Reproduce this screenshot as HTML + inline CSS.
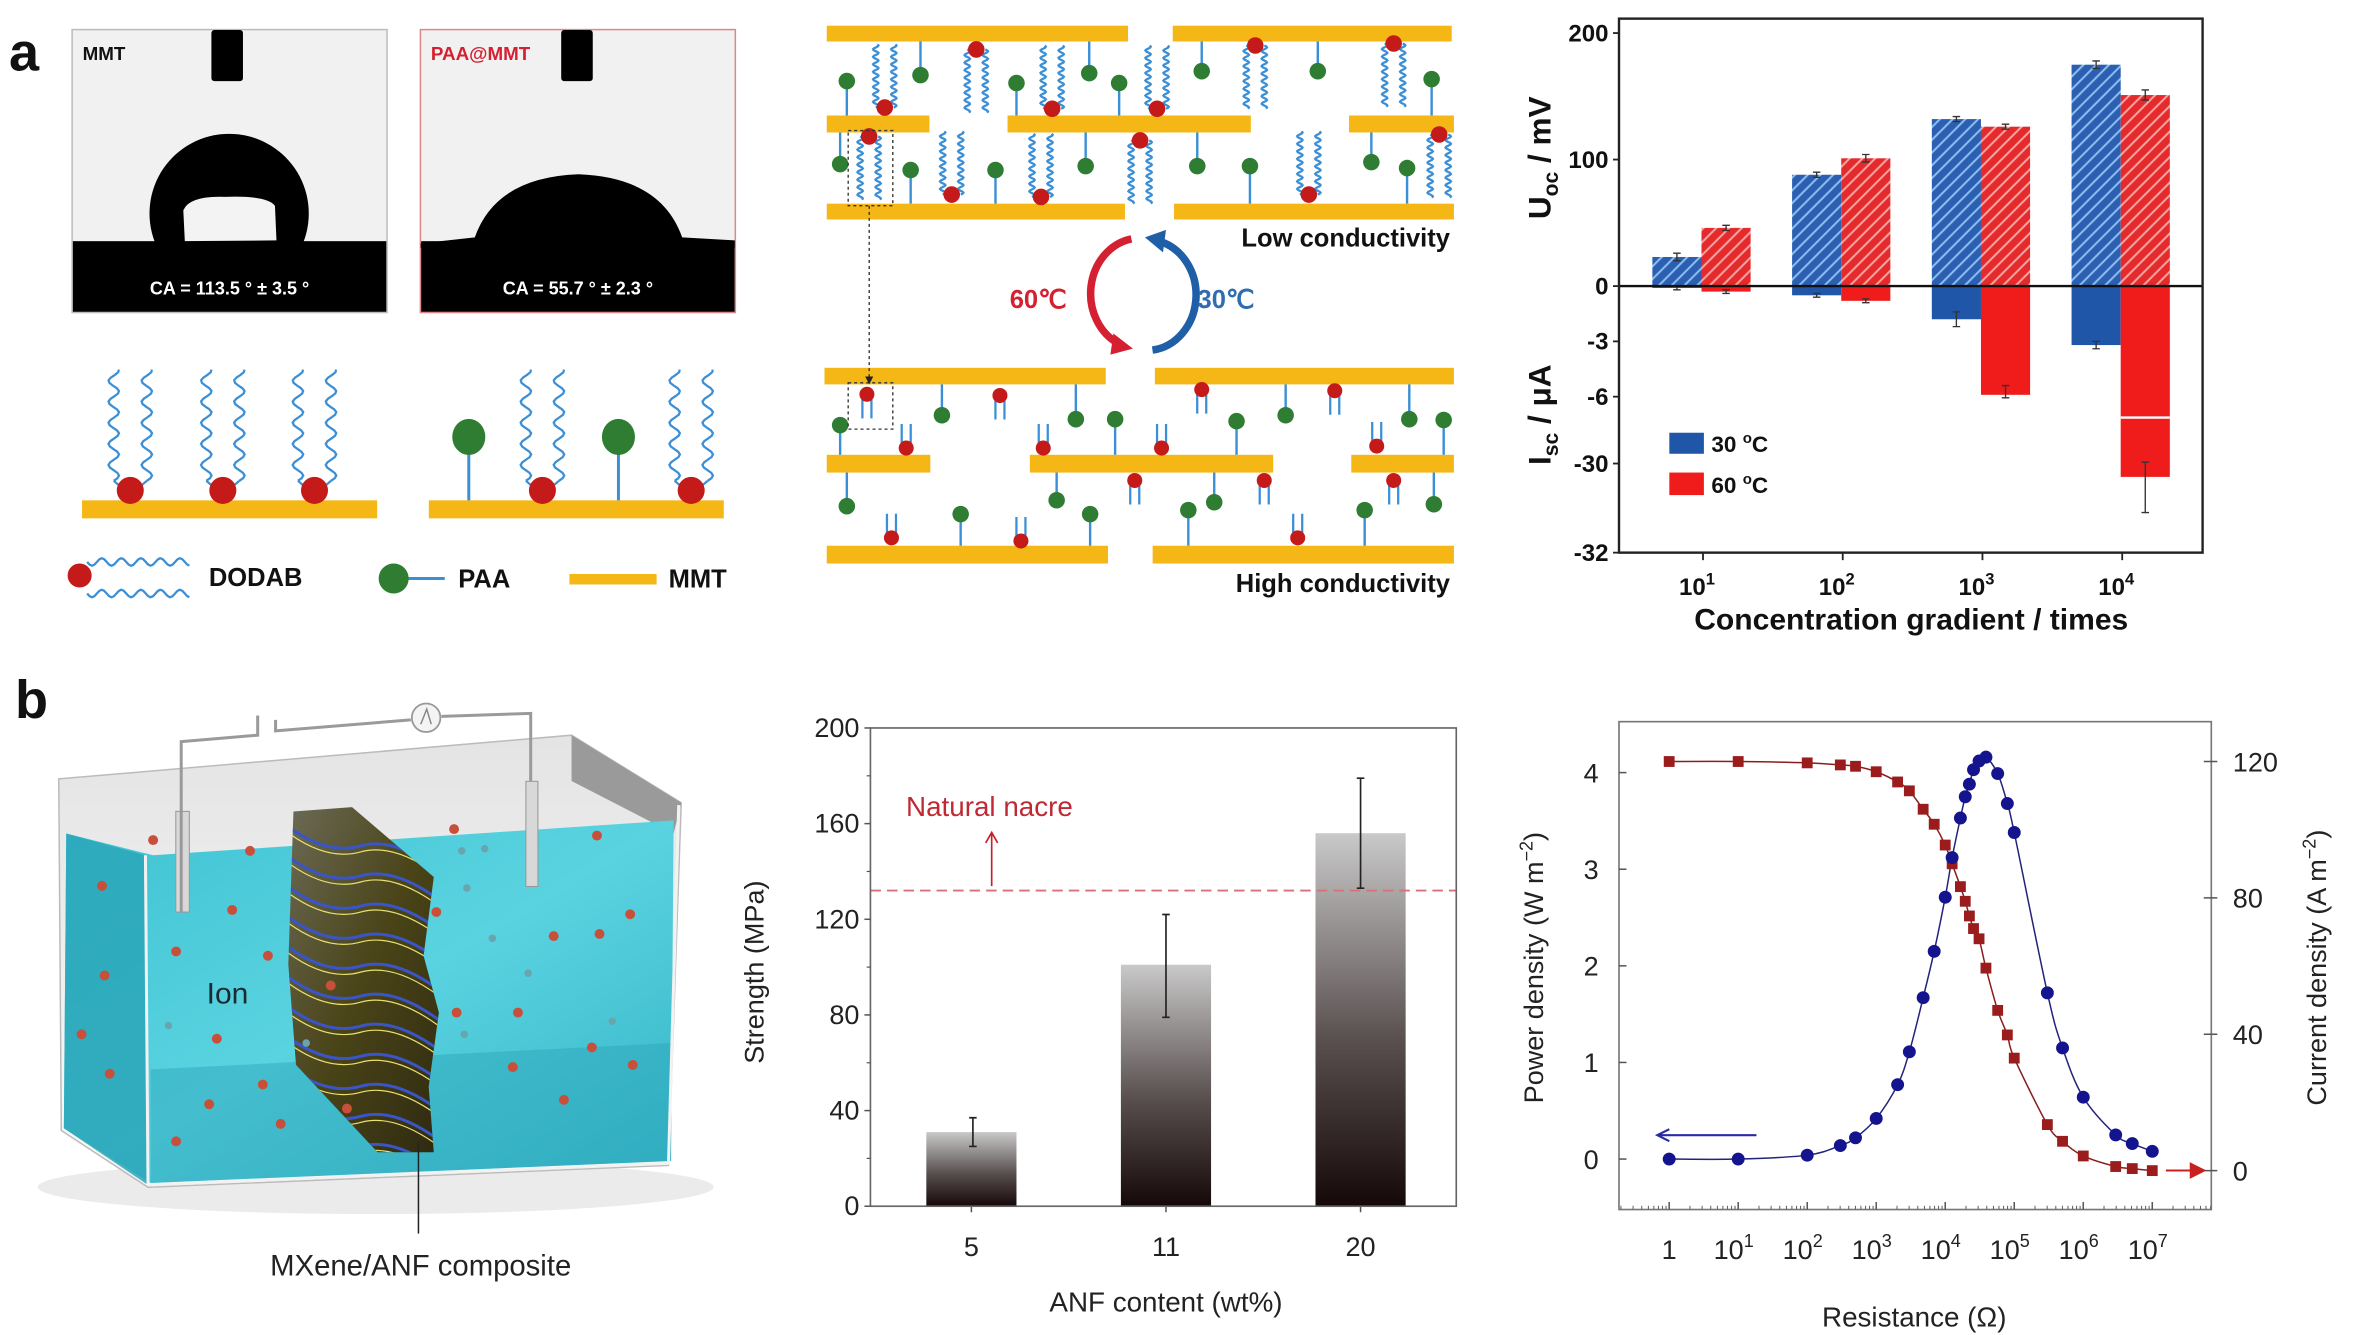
<!DOCTYPE html>
<html><head><meta charset="utf-8"><title>Figure</title>
<style>
html,body{margin:0;padding:0;background:#fff;}
svg{display:block;font-family:"Liberation Sans",Arial,sans-serif;}
</style></head>
<body>
<svg id="fig" xmlns="http://www.w3.org/2000/svg" width="2356" height="1335" viewBox="0 0 1568 888.5" preserveAspectRatio="none">
<defs>
<pattern id="hatchBlue" patternUnits="userSpaceOnUse" width="6" height="6" patternTransform="rotate(-45)">
<rect width="6" height="6" fill="#2c5fb2"/><line x1="0" y1="3" x2="6" y2="3" stroke="#8cc2f0" stroke-width="1.3"/></pattern>
<pattern id="hatchRed" patternUnits="userSpaceOnUse" width="6" height="6" patternTransform="rotate(-45)">
<rect width="6" height="6" fill="#e52a2c"/><line x1="0" y1="3" x2="6" y2="3" stroke="#f7a8a8" stroke-width="1.3"/></pattern>
<linearGradient id="barGrad" x1="0" y1="0" x2="0" y2="1"><stop offset="0" stop-color="#c9c9c9"/><stop offset="0.55" stop-color="#5a5050"/><stop offset="1" stop-color="#150808"/></linearGradient>
<linearGradient id="water" x1="0" y1="0" x2="1" y2="1"><stop offset="0" stop-color="#3fc3d3"/><stop offset="0.5" stop-color="#5ad3e0"/><stop offset="1" stop-color="#34b4c6"/></linearGradient>
<linearGradient id="rim" x1="0" y1="0" x2="0" y2="1"><stop offset="0" stop-color="#e4e4e4"/><stop offset="1" stop-color="#fafafa"/></linearGradient>
<linearGradient id="comp" x1="0" y1="0" x2="1" y2="1"><stop offset="0" stop-color="#6b6a55"/><stop offset="0.5" stop-color="#4a4418"/><stop offset="1" stop-color="#2f2a10"/></linearGradient>
<marker id="arrDark" markerWidth="6" markerHeight="6" refX="5" refY="3" orient="auto"><path d="M0,0 L6,3 L0,6 z" fill="#222"/></marker>
<clipPath id="compClip"><polygon points="195.3,540.1 234.3,537.2 288.7,583.7 281.9,636.1 292.1,673.9 285.3,723.3 288.7,766.9 251.3,766.9 197,708.7 191.9,641.9"/></clipPath>
</defs>
<g id="root"></g>
</svg>
<script>
// ---------- chart data (panel a, right) ----------
const gradExp = ['1','2','3','4'];
const uoc30 = [23, 88, 132, 175];
const uoc60 = [46, 101, 126, 151];
const uocErr30 = [3, 2, 2, 3];
const uocErr60 = [2, 3, 2, 4];
const isc30 = [-0.1, -0.5, -1.8, -3.2];
const isc60 = [-0.3, -0.8, -5.9, -30.3];
const iscErr30 = [0.1, 0.1, 0.4, 0.2];
const iscErr60 = [0.1, 0.1, 0.5, 0.8];
const uTicks = [0, 100, 200];
const iTicks = [-3, -6, -30, -32];
// ---------- chart data (panel b, middle) ----------
const anfCats = ['5', '11', '20'];
const strength = [31, 101, 156];
const strengthHi = [37, 122, 179];
const strengthLo = [25, 79, 133];
const nacreValue = 132;
const sTicks = [0, 40, 80, 120, 160, 200];
// ---------- chart data (panel b, right) ----------
const logR = [0, 1, 2, 2.48, 2.7, 3, 3.31, 3.48, 3.68, 3.84, 4, 4.1, 4.22, 4.29, 4.35, 4.41, 4.49, 4.59, 4.76, 4.9, 5, 5.48, 5.7, 6, 6.47, 6.71, 7];
const powerD = [0, 0, 0.04, 0.14, 0.22, 0.42, 0.77, 1.11, 1.67, 2.15, 2.71, 3.12, 3.53, 3.75, 3.88, 4.03, 4.12, 4.16, 3.99, 3.68, 3.38, 1.72, 1.15, 0.64, 0.25, 0.16, 0.08];
const currentD = [120, 120, 119.6, 119, 118.6, 117, 114, 111.4, 106, 101.6, 95.5, 90, 83.3, 79, 74.7, 71, 68, 59.4, 47, 39.8, 33, 13.5, 8.6, 4.3, 1.2, 0.6, 0];
const pTicks = [0, 1, 2, 3, 4];
const cTicks = [0, 40, 80, 120];
const rTickExp = [0, 1, 2, 3, 4, 5, 6, 7];

const NS = 'http://www.w3.org/2000/svg';
const root = document.getElementById('root');
function mk(tag, a, p) { const e = document.createElementNS(NS, tag); for (const k in a) e.setAttribute(k, a[k]); (p || root).appendChild(e); return e; }
function txt(s, a, p) { const e = mk('text', a, p); e.textContent = s; return e; }
function wavePath(x, y1, y2, amp, per) {
  const n = Math.max(2, Math.round(Math.abs(y2 - y1) / (per / 8)));
  let d = 'M' + x + ',' + y1;
  for (let i = 1; i <= n; i++) { const t = i / n; const y = y1 + (y2 - y1) * t; const xx = x + amp * Math.sin(t * Math.abs(y2 - y1) / per * 2 * Math.PI); d += ' L' + xx.toFixed(2) + ',' + y.toFixed(2); }
  return d;
}
function hWavePath(x1, x2, y, amp, per) {
  const n = Math.round((x2 - x1) / (per / 8)); let d = 'M' + x1 + ',' + y;
  for (let i = 1; i <= n; i++) { const t = i / n; const x = x1 + (x2 - x1) * t; d += ' L' + x.toFixed(2) + ',' + (y + amp * Math.sin(t * (x2 - x1) / per * 2 * Math.PI)).toFixed(2); }
  return d;
}

// ================= PANEL LABELS =================
let e;
e = txt('a', { x: 6, y: 47, 'font-size': 36, 'font-weight': 'bold', fill: '#111' });


e = txt('b', { x: 10, y: 478, 'font-size': 36, 'font-weight': 'bold', fill: '#111' });



// ================= CONTACT ANGLE IMAGES =================
function dropImage(x0, label, labelColor, border, ca, dropFn, needleX, name) {
  const g = mk('g', {});
  
  
  mk('rect', { x: x0, y: 19.7, width: 209.6, height: 188.3, fill: '#f1f1f1', stroke: border, 'stroke-width': 1 }, g);
  mk('rect', { x: x0 + 0.5, y: 160.5, width: 208.6, height: 47, fill: '#000' }, g);
  dropFn(g);
  mk('rect', { x: needleX, y: 20, width: 21, height: 34, rx: 2, fill: '#000' }, g);
  const t = txt(label, { x: x0 + 7, y: 40, 'font-size': 12.5, 'font-weight': 'bold', fill: labelColor }, g);
  
  
  const c = txt(ca, { x: x0 + 104.8, y: 196, 'font-size': 12, 'font-weight': 'bold', fill: '#fff', 'text-anchor': 'middle' }, g);
  
  
}
dropImage(48, 'MMT', '#111', '#bbb', 'CA = 113.5 ° ± 3.5 °', g => {
  mk('path', { d: 'M103,161 A53,53 0 1 1 202,161 Z', fill: '#000' }, g);
  mk('path', { d: 'M123,160.5 L122,140 Q126,130 150,131 Q178,130 183,137 L184,160 Z', fill: '#f3f3f3' }, g);
}, 140.7, 'mmt-contact-angle-image');
dropImage(279.8, 'PAA@MMT', '#d42030', '#d88', 'CA = 55.7 ° ± 2.3 °', g => {
  mk('path', { d: 'M280,162 L316,158 Q330,118 385,116 Q440,118 454,158 L489,160 L489,165 L280,165 Z', fill: '#000' }, g);
}, 373.5, 'paa-mmt-contact-angle-image');

// ================= SURFACE MOLECULE SCHEMATIC =================
function dodab(x, y, dir, len, spread, amp, per, parent) {
  const g = mk('g', {}, parent);
  
  
  mk('path', { d: wavePath(x - spread, y, y + dir * len, amp, per), fill: 'none', stroke: '#3b8fd6', 'stroke-width': 1.5 }, g);
  mk('path', { d: wavePath(x + spread, y, y + dir * len, amp, per), fill: 'none', stroke: '#3b8fd6', 'stroke-width': 1.5 }, g);
  mk('circle', { cx: x, cy: y, r: 5.5, fill: '#c41a1a' }, g);
}
function paa(x, by, ey, r, parent) {
  const g = mk('g', {}, parent);
  
  
  mk('line', { x1: x, y1: by, x2: x, y2: ey, stroke: '#3b8fd6', 'stroke-width': 1.6 }, g);
  mk('circle', { cx: x, cy: by, r: r, fill: '#2e7d32' }, g);
}
const surf = mk('g', {});


e = mk('rect', { x: 54.6, y: 333, width: 196.4, height: 12, fill: '#f5b716' }, surf);


e = mk('rect', { x: 285.4, y: 333, width: 196.3, height: 12, fill: '#f5b716' }, surf);


[86.7, 148.3, 209.3, 361, 460].forEach(x => {
  mk('path', { d: wavePath(x - 11, 320, 246, 3.5, 14), fill: 'none', stroke: '#3b8fd6', 'stroke-width': 1.5 }, surf);
  mk('path', { d: wavePath(x + 11, 320, 246, 3.5, 14), fill: 'none', stroke: '#3b8fd6', 'stroke-width': 1.5 }, surf);
  mk('path', { d: 'M' + (x - 11) + ',320 L' + (x - 4) + ',326 M' + (x + 11) + ',320 L' + (x + 4) + ',326', fill: 'none', stroke: '#3b8fd6', 'stroke-width': 1.5 }, surf);
  mk('circle', { cx: x, cy: 326.4, r: 9, fill: '#c41a1a' }, surf);
});
[312, 411.6].forEach(x => {
  mk('line', { x1: x, y1: 292, x2: x, y2: 333, stroke: '#3b8fd6', 'stroke-width': 2 }, surf);
  mk('ellipse', { cx: x, cy: 290.8, rx: 11, ry: 12, fill: '#2e7d32' }, surf);
});
// legend row
const leg = mk('g', {});


mk('path', { d: hWavePath(58, 126, 374, 2.5, 13), fill: 'none', stroke: '#3b8fd6', 'stroke-width': 1.5 }, leg);
mk('path', { d: hWavePath(58, 126, 395, 2.5, 13), fill: 'none', stroke: '#3b8fd6', 'stroke-width': 1.5 }, leg);
mk('circle', { cx: 53, cy: 383, r: 8, fill: '#c41a1a' }, leg);
e = txt('DODAB', { x: 139, y: 390, 'font-size': 17, 'font-weight': 'bold', fill: '#111' }, leg);


mk('line', { x1: 262, y1: 385, x2: 296, y2: 385, stroke: '#3b8fd6', 'stroke-width': 2 }, leg);
mk('ellipse', { cx: 262, cy: 385, rx: 10, ry: 10, fill: '#2e7d32' }, leg);
e = txt('PAA', { x: 305, y: 391, 'font-size': 17, 'font-weight': 'bold', fill: '#111' }, leg);


mk('rect', { x: 379, y: 382, width: 58, height: 7, fill: '#f5b716' }, leg);
e = txt('MMT', { x: 445, y: 391, 'font-size': 17, 'font-weight': 'bold', fill: '#111' }, leg);



// ================= LAYER SCHEMATIC (zoom coords -> ref) =================
const zx = z => 532.4 + z * 0.2971, zy = z => z * 0.2632;
const lay = mk('g', {});


const bars = [[65,105,60,735],[65,105,835,1460],[292,335,60,290],[292,335,465,1010],[292,335,1230,1465],[515,555,60,728],[515,555,838,1465],
  [930,972,55,685],[930,972,795,1465],[1150,1195,60,292],[1150,1195,515,1060],[1150,1195,1235,1465],[1380,1425,60,690],[1380,1425,790,1465]];
bars.forEach(b => {
  const r = mk('rect', { x: zx(b[2]), y: zy(b[0]), width: zx(b[3]) - zx(b[2]), height: zy(b[1]) - zy(b[0]), fill: '#f5b716' }, lay);
  
  
});
const greens = [[105,205,292],[270,190,105],[485,210,292],[648,185,105],[715,210,292],[900,180,105],[1160,180,105],[1415,200,292],
 [90,415,335],[248,430,515],[438,430,515],[640,420,335],[890,420,335],[1008,420,515],[1280,410,335],[1360,425,515],
 [90,1075,1150],[318,1050,972],[618,1060,972],[706,1060,1150],[978,1065,1150],[1088,1050,972],[1365,1060,972],[1442,1062,1150],
 [105,1280,1195],[360,1300,1380],[575,1265,1195],[650,1300,1380],[870,1290,1380],[928,1270,1195],[1265,1290,1380],[1420,1275,1195]];
greens.forEach(g => paa(zx(g[0]), zy(g[1]), zy(g[2]), 5.5, lay));
const longD = [[190,272,-1],[565,275,-1],[800,275,-1],[395,125,1],[1020,115,1],[1330,110,1],[340,492,-1],[540,498,-1],[1140,492,-1],[155,345,1],[762,355,1],[1432,340,1]];
longD.forEach(d => dodab(zx(d[0]), zy(d[1]), d[2], 42, 6, 1.8, 5, lay));
const shortD = [[150,997,1],[448,1000,1],[900,985,1],[1198,988,1],[238,1133,-1],[545,1133,-1],[810,1133,-1],[1292,1128,-1],[750,1215,1],[1040,1215,1],[1330,1215,1],[205,1360,-1],[495,1368,-1],[1115,1360,-1]];
shortD.forEach(d => {
  const x = zx(d[0]), y = zy(d[1]);
  mk('path', { d: 'M' + (x - 3) + ',' + y + ' L' + (x - 3) + ',' + (y + d[2] * 16) + ' M' + (x + 3) + ',' + y + ' L' + (x + 3) + ',' + (y + d[2] * 16), stroke: '#3b8fd6', 'stroke-width': 1.5, fill: 'none' }, lay);
  mk('circle', { cx: x, cy: y, r: 5, fill: '#c41a1a' }, lay);
});
mk('rect', { x: 564.5, y: 86.9, width: 29.7, height: 50, fill: 'none', stroke: '#333', 'stroke-width': 0.9, 'stroke-dasharray': '2,2' }, lay);
mk('rect', { x: 564.5, y: 254.8, width: 29.7, height: 30.8, fill: 'none', stroke: '#333', 'stroke-width': 0.9, 'stroke-dasharray': '2,2' }, lay);
mk('line', { x1: 578.5, y1: 137, x2: 578.5, y2: 255, stroke: '#333', 'stroke-width': 0.9, 'stroke-dasharray': '2,2', 'marker-end': 'url(#arrDark)' }, lay);
e = txt('Low conductivity', { x: 965, y: 164, 'font-size': 17, 'font-weight': 'bold', fill: '#111', 'text-anchor': 'end' }, lay);


e = txt('High conductivity', { x: 965, y: 394, 'font-size': 17, 'font-weight': 'bold', fill: '#111', 'text-anchor': 'end' }, lay);


// switching arrows
const cyc = mk('g', {}, lay);


mk('path', { d: 'M753,159 A33,37 0 0 0 745,229', fill: 'none', stroke: '#d42030', 'stroke-width': 5 }, cyc);
mk('path', { d: 'M741,222 L754,232 L739,236 Z', fill: '#d42030' }, cyc);
mk('path', { d: 'M767,233 A33,37 0 0 0 773,161', fill: 'none', stroke: '#1f5fa8', 'stroke-width': 5 }, cyc);
mk('path', { d: 'M776,153 L762,158 L774,168 Z', fill: '#1f5fa8' }, cyc);
e = txt('60℃', { x: 672, y: 205, 'font-size': 17, 'font-weight': 'bold', fill: '#d42030' }, cyc);


e = txt('30℃', { x: 797, y: 205, 'font-size': 17, 'font-weight': 'bold', fill: '#2f6db0' }, cyc);



// ================= CHART A (Uoc / Isc) =================
const ca = mk('g', {});


const A = { l: 1077.5, r: 1465.9, t: 12.4, b: 367.8 };
const yU = v => 190.4 - v * (190.4 - 22) / 200;
function yI(v) {
  if (v >= -6) return 190.4 + (-v) * (264 - 190.4) / 6;
  if (v >= -30) return 264 + (-6 - v) / 24 * (308.5 - 264);
  return 308.5 + (-30 - v) / 2 * (367.8 - 308.5);
}
const xA = i => 1133.4 + i * 93;
const bwA = 32.7;
gradExp.forEach((g, i) => {
  const x30 = xA(i) - bwA - 1, x60 = xA(i) - 1;
  let r;
  r = mk('rect', { x: x30, y: yU(uoc30[i]), width: bwA, height: yU(0) - yU(uoc30[i]), fill: 'url(#hatchBlue)' }, ca);
  
  
  r = mk('rect', { x: x60, y: yU(uoc60[i]), width: bwA, height: yU(0) - yU(uoc60[i]), fill: 'url(#hatchRed)' }, ca);
  
  
  r = mk('rect', { x: x30, y: yI(0), width: bwA, height: yI(isc30[i]) - yI(0), fill: '#1f56a8' }, ca);
  
  
  r = mk('rect', { x: x60, y: yI(0), width: bwA, height: yI(isc60[i]) - yI(0), fill: '#f01c1c' }, ca);
  
  
  [[x30, uoc30[i], uocErr30[i], yU], [x60, uoc60[i], uocErr60[i], yU], [x30, isc30[i], iscErr30[i], yI], [x60, isc60[i], iscErr60[i], yI]].forEach(q => {
    const cx = q[0] + bwA / 2, s = q[3];
    const eb = mk('path', { d: 'M' + cx + ',' + s(q[1] + q[2]) + ' L' + cx + ',' + s(q[1] - q[2]) + ' M' + (cx - 2.5) + ',' + s(q[1] + q[2]) + ' L' + (cx + 2.5) + ',' + s(q[1] + q[2]) + ' M' + (cx - 2.5) + ',' + s(q[1] - q[2]) + ' L' + (cx + 2.5) + ',' + s(q[1] - q[2]), stroke: '#333', 'stroke-width': 0.9, fill: 'none' }, ca);
    
    
  });
  const t = txt('10', { x: xA(i) - 4, y: 396, 'font-size': 16, 'font-weight': 'bold', fill: '#111', 'text-anchor': 'middle' }, ca);
  const sp = mk('tspan', { dy: -7, 'font-size': 11 }, t); sp.textContent = g;
  
  
  mk('line', { x1: xA(i), y1: A.b, x2: xA(i), y2: A.b + 5, stroke: '#222', 'stroke-width': 1.2 }, ca);
});
e = mk('line', { x1: xA(3) - 1, y1: yI(-13.5), x2: xA(3) - 1 + bwA, y2: yI(-13.5), stroke: '#fff', 'stroke-width': 1.6 }, ca);


e = mk('line', { x1: A.l, y1: yU(0), x2: A.r, y2: yU(0), stroke: '#111', 'stroke-width': 1.6 }, ca);


e = mk('rect', { x: A.l, y: A.t, width: A.r - A.l, height: A.b - A.t, fill: 'none', stroke: '#222', 'stroke-width': 1.6 }, ca);


uTicks.forEach(v => {
  mk('line', { x1: A.l - 4, y1: yU(v), x2: A.l, y2: yU(v), stroke: '#222', 'stroke-width': 1.2 }, ca);
  const t = txt(String(v), { x: A.l - 7, y: yU(v) + 5.5, 'font-size': 16, 'font-weight': 'bold', fill: '#111', 'text-anchor': 'end' }, ca);
  
  
});
iTicks.forEach(v => {
  mk('line', { x1: A.l - 4, y1: yI(v), x2: A.l, y2: yI(v), stroke: '#222', 'stroke-width': 1.2 }, ca);
  const t = txt(String(v), { x: A.l - 7, y: yI(v) + 5.5, 'font-size': 16, 'font-weight': 'bold', fill: '#111', 'text-anchor': 'end' }, ca);
  
  
});
e = txt('U', { transform: 'translate(1032,105) rotate(-90)', 'font-size': 21, 'font-weight': 'bold', fill: '#111', 'text-anchor': 'middle' }, ca);
e.innerHTML = 'U<tspan font-size="14" dy="5">oc</tspan><tspan dy="-5"> / mV</tspan>';


e = txt('I', { transform: 'translate(1032,276) rotate(-90)', 'font-size': 21, 'font-weight': 'bold', fill: '#111', 'text-anchor': 'middle' }, ca);
e.innerHTML = 'I<tspan font-size="14" dy="5">sc</tspan><tspan dy="-5"> / μA</tspan>';


e = txt('Concentration gradient / times', { x: 1272, y: 419, 'font-size': 20, 'font-weight': 'bold', fill: '#111', 'text-anchor': 'middle' }, ca);


const lgA = mk('g', {}, ca);


mk('rect', { x: 1111, y: 288, width: 23, height: 14, fill: '#1f56a8' }, lgA);
e = txt('30 °C', { x: 1139, y: 301, 'font-size': 15, 'font-weight': 'bold', fill: '#111' }, lgA);
e.innerHTML = '30 <tspan font-size="10" dy="-6">o</tspan><tspan dy="6">C</tspan>';


mk('rect', { x: 1111, y: 314.5, width: 23, height: 15, fill: '#f01c1c' }, lgA);
e = txt('60 °C', { x: 1139, y: 328, 'font-size': 15, 'font-weight': 'bold', fill: '#111' }, lgA);
e.innerHTML = '60 <tspan font-size="10" dy="-6">o</tspan><tspan dy="6">C</tspan>';



// ================= TANK ILLUSTRATION =================
const tz = (x, y) => [(x * 0.3396).toFixed(1), (432.6 + y * 0.2907).toFixed(1)];
const P = arr => arr.map(p => tz(p[0], p[1]).join(',')).join(' ');
const tank = mk('g', {});


mk('ellipse', { cx: 250, cy: 790, rx: 225, ry: 18, fill: '#ddd', opacity: 0.6 }, tank);
mk('polygon', { points: P([[115, 295], [1120, 195], [1335, 350], [1310, 1180], [290, 1230], [120, 1100]]), fill: 'url(#rim)', stroke: '#bbb', 'stroke-width': 1 }, tank);
mk('polygon', { points: P([[1120, 195], [1335, 350], [1320, 420], [1120, 300]]), fill: '#9a9a9a' }, tank);
mk('polygon', { points: P([[130, 420], [300, 470], [1320, 390], [1315, 1170], [295, 1220], [125, 1095]]), fill: 'url(#water)' }, tank);
mk('polygon', { points: P([[130, 420], [285, 470], [290, 1225], [125, 1095]]), fill: '#2aa6b8', opacity: 0.85 }, tank);
mk('polygon', { points: P([[295, 960], [1315, 900], [1315, 1170], [295, 1220]]), fill: '#2aa3b8', opacity: 0.45 }, tank);
mk('line', { x1: tz(285, 470)[0], y1: tz(285, 470)[1], x2: tz(290, 1225)[0], y2: tz(290, 1225)[1], stroke: '#f2f2f2', 'stroke-width': 2 }, tank);
mk('polyline', { points: P([[290, 1225], [1310, 1175], [1330, 355]]), fill: 'none', stroke: '#f2f2f2', 'stroke-width': 2 }, tank);
mk('rect', { x: 117, y: 540, width: 9, height: 67, fill: '#d8d8d8', stroke: '#999', 'stroke-width': 0.7 }, tank);
mk('rect', { x: 350, y: 520, width: 8, height: 70, fill: '#d8d8d8', stroke: '#999', 'stroke-width': 0.7 }, tank);
mk('polyline', { points: P([[355, 600], [355, 210], [505, 195], [505, 150]]), fill: 'none', stroke: '#9a9a9a', 'stroke-width': 2 }, tank);
mk('polyline', { points: P([[540, 160], [540, 185], [805, 160]]), fill: 'none', stroke: '#9a9a9a', 'stroke-width': 2 }, tank);
mk('polyline', { points: P([[865, 152], [1040, 145], [1040, 300]]), fill: 'none', stroke: '#9a9a9a', 'stroke-width': 2 }, tank);
mk('circle', { cx: 283.6, cy: 477.7, r: 9.5, fill: '#f4f4f4', stroke: '#999', 'stroke-width': 1.2 }, tank);
mk('path', { d: 'M280,482 L284,472 L287,482', fill: 'none', stroke: '#888', 'stroke-width': 1 }, tank);
const comp = mk('g', {}, tank);


mk('polygon', { points: '195.3,540.1 234.3,537.2 288.7,583.7 281.9,636.1 292.1,673.9 285.3,723.3 288.7,766.9 251.3,766.9 197,708.7 191.9,641.9', fill: 'url(#comp)' }, comp);
const cg = mk('g', { 'clip-path': 'url(#compClip)' }, comp);
for (let k = 0; k < 12; k++) {
  const y0 = 545 + k * 20;
  mk('path', { d: 'M185,' + y0 + ' Q215,' + (y0 + 25) + ' 240,' + (y0 + 18) + ' T300,' + (y0 + 40), fill: 'none', stroke: '#3a55c8', 'stroke-width': 2 }, cg);
  mk('path', { d: 'M185,' + (y0 + 4) + ' Q215,' + (y0 + 29) + ' 240,' + (y0 + 22) + ' T300,' + (y0 + 44), fill: 'none', stroke: '#e8e070', 'stroke-width': 0.8 }, cg);
}
const ions = [[200,540],[205,745],[160,880],[215,970],[345,690],[345,1125],[410,1040],[425,890],[455,595],[490,460],[515,995],[550,1085],[525,700],[648,768],[680,1050],[855,600],[890,410],[895,830],[1015,830],[1005,955],[1085,655],[1105,1030],[1160,910],[1175,650],[1170,425],[1235,605],[1240,950],[300,435]];
ions.forEach(p => {
  const c = tz(p[0], p[1]);
  const ci = mk('circle', { cx: c[0], cy: c[1], r: 3.3, fill: '#c8503a' }, tank);
  
  
});
[[905,460],[950,455],[915,545],[965,660],[1035,740],[910,880],[330,860],[600,900],[1200,850]].forEach(p => {
  const c = tz(p[0], p[1]);
  mk('circle', { cx: c[0], cy: c[1], r: 2.5, fill: '#6aa5ae' }, tank);
});
mk('line', { x1: 278.5, y1: 761, x2: 278.5, y2: 821, stroke: '#222', 'stroke-width': 1 }, tank);
e = txt('Ion', { x: 137.5, y: 668, 'font-size': 20, fill: '#1a2a30' }, tank);


e = txt('MXene/ANF composite', { x: 280, y: 849, 'font-size': 19.5, fill: '#222', 'text-anchor': 'middle' }, tank);



// ================= CHART B (strength) =================
const cb = mk('g', {});


const B = { l: 579.3, r: 969.2, t: 484.5, b: 802.8 };
const yS = v => B.b - v * (B.b - B.t) / 200;
const xS = i => 646.5 + i * 129.5;
const bwB = 60;
anfCats.forEach((c, i) => {
  const r = mk('rect', { x: xS(i) - bwB / 2, y: yS(strength[i]), width: bwB, height: yS(0) - yS(strength[i]), fill: 'url(#barGrad)' }, cb);
  
  
  const x = xS(i) + (i === 0 ? 1 : 0);
  const eb = mk('path', { d: 'M' + x + ',' + yS(strengthHi[i]) + ' L' + x + ',' + yS(strengthLo[i]) + ' M' + (x - 2.5) + ',' + yS(strengthHi[i]) + ' L' + (x + 2.5) + ',' + yS(strengthHi[i]) + ' M' + (x - 2.5) + ',' + yS(strengthLo[i]) + ' L' + (x + 2.5) + ',' + yS(strengthLo[i]), stroke: '#222', 'stroke-width': 1.1, fill: 'none' }, cb);
  
  
  mk('line', { x1: xS(i), y1: B.b, x2: xS(i), y2: B.b + 4, stroke: '#555', 'stroke-width': 1 }, cb);
  const t = txt(c, { x: xS(i), y: 836, 'font-size': 18, fill: '#222', 'text-anchor': 'middle' }, cb);
  
  
});
e = mk('line', { x1: B.l, y1: yS(nacreValue), x2: B.r, y2: yS(nacreValue), stroke: '#d9707a', 'stroke-width': 1.2, 'stroke-dasharray': '7,4' }, cb);


e = mk('path', { d: 'M660,' + (yS(nacreValue) - 3) + ' L660,555 M656,561 L660,554 L664,561', fill: 'none', stroke: '#c8202a', 'stroke-width': 1.1 }, cb);


e = txt('Natural nacre', { x: 603, y: 543, 'font-size': 18.5, fill: '#c02834' }, cb);


e = mk('rect', { x: B.l, y: B.t, width: B.r - B.l, height: B.b - B.t, fill: 'none', stroke: '#666', 'stroke-width': 1.1 }, cb);


sTicks.forEach(v => {
  mk('line', { x1: B.l - 4, y1: yS(v), x2: B.l, y2: yS(v), stroke: '#555', 'stroke-width': 1 }, cb);
  if (v < 200) mk('line', { x1: B.l - 2.5, y1: yS(v + 20), x2: B.l, y2: yS(v + 20), stroke: '#555', 'stroke-width': 0.8 }, cb);
  const t = txt(String(v), { x: 572, y: yS(v) + 6, 'font-size': 18, fill: '#222', 'text-anchor': 'end' }, cb);
  
  
});
e = txt('Strength (MPa)', { transform: 'translate(508,647) rotate(-90)', 'font-size': 18, fill: '#222', 'text-anchor': 'middle' }, cb);


e = txt('ANF content (wt%)', { x: 776, y: 873, 'font-size': 18.5, fill: '#222', 'text-anchor': 'middle' }, cb);



// ================= CHART C (power/current vs resistance) =================
const cc = mk('g', {});


const C = { l: 1077.5, r: 1471.7, t: 480.3, b: 805 };
const xR = l => 1110.9 + l * 45.93;
const yP = v => 771.4 - v * 64.3;
const yC = v => 779.1 - v * 2.269;
function smooth(pts) {
  let d = 'M' + pts[0][0] + ',' + pts[0][1];
  for (let i = 0; i < pts.length - 1; i++) {
    const p0 = pts[Math.max(0, i - 1)], p1 = pts[i], p2 = pts[i + 1], p3 = pts[Math.min(pts.length - 1, i + 2)];
    const c1 = [p1[0] + (p2[0] - p0[0]) / 6, p1[1] + (p2[1] - p0[1]) / 6], c2 = [p2[0] - (p3[0] - p1[0]) / 6, p2[1] - (p3[1] - p1[1]) / 6];
    d += ' C' + c1[0].toFixed(2) + ',' + c1[1].toFixed(2) + ' ' + c2[0].toFixed(2) + ',' + c2[1].toFixed(2) + ' ' + p2[0].toFixed(2) + ',' + p2[1].toFixed(2);
  }
  return d;
}
e = mk('path', { d: smooth(logR.map((l, i) => [xR(l), yC(currentD[i])])), fill: 'none', stroke: '#8a1e1e', 'stroke-width': 1 }, cc);


e = mk('path', { d: smooth(logR.map((l, i) => [xR(l), yP(powerD[i])])), fill: 'none', stroke: '#23237a', 'stroke-width': 1 }, cc);


logR.forEach((l, i) => {
  const s = mk('rect', { x: xR(l) - 3.6, y: yC(currentD[i]) - 3.6, width: 7.2, height: 7.2, fill: '#9b1c1c' }, cc);
  
  
});
logR.forEach((l, i) => {
  const c = mk('circle', { cx: xR(l), cy: yP(powerD[i]), r: 4.3, fill: '#14148e' }, cc);
  
  
});
e = mk('rect', { x: C.l, y: C.t, width: C.r - C.l, height: C.b - C.t, fill: 'none', stroke: '#777', 'stroke-width': 1.1 }, cc);


for (let d = -1; d <= 7; d++) for (let k = 2; k <= 9; k++) {
  const x = xR(d + Math.log10(k));
  if (x > C.l && x < C.r) mk('line', { x1: x, y1: C.b, x2: x, y2: C.b - 2.5, stroke: '#666', 'stroke-width': 0.7 }, cc);
}
rTickExp.forEach(p => {
  mk('line', { x1: xR(p), y1: C.b, x2: xR(p), y2: C.b - 5, stroke: '#555', 'stroke-width': 1 }, cc);
  const t = txt(p === 0 ? '1' : '10', { x: xR(p) + (p === 0 ? 0 : -3), y: 838, 'font-size': 18, fill: '#222', 'text-anchor': 'middle' }, cc);
  if (p > 0) { const sp = mk('tspan', { dy: -8, 'font-size': 12 }, t); sp.textContent = String(p); }
  
  
});
pTicks.forEach(v => {
  mk('line', { x1: C.l, y1: yP(v), x2: C.l + 5, y2: yP(v), stroke: '#555', 'stroke-width': 1 }, cc);
  const t = txt(String(v), { x: 1064, y: yP(v) + 6.5, 'font-size': 18, fill: '#222', 'text-anchor': 'end' }, cc);
  
  
});
cTicks.forEach(v => {
  mk('line', { x1: C.r - 5, y1: yC(v), x2: C.r + 4, y2: yC(v), stroke: '#555', 'stroke-width': 1 }, cc);
  const t = txt(String(v), { x: 1486, y: yC(v) + 6.5, 'font-size': 18, fill: '#222' }, cc);
  
  
});
e = mk('path', { d: 'M1169,755.5 L1104,755.5 M1111,751.5 L1103,755.5 L1111,759.5', fill: 'none', stroke: '#2a2aa8', 'stroke-width': 1.4 }, cc);


e = mk('path', { d: 'M1441.5,779 L1458,779 M1458,774.5 L1467,779 L1458,783.5 Z', fill: '#c82020', stroke: '#c82020', 'stroke-width': 1.3 }, cc);


e = txt('', { transform: 'translate(1027,644) rotate(-90)', 'font-size': 18, fill: '#222', 'text-anchor': 'middle' }, cc);
e.innerHTML = 'Power density (W m<tspan font-size="12" dy="-7">−2</tspan><tspan dy="7">)</tspan>';


e = txt('', { transform: 'translate(1548,644) rotate(-90)', 'font-size': 18, fill: '#222', 'text-anchor': 'middle' }, cc);
e.innerHTML = 'Current density (A m<tspan font-size="12" dy="-7">−2</tspan><tspan dy="7">)</tspan>';


e = txt('Resistance (Ω)', { x: 1274, y: 883, 'font-size': 18.5, fill: '#222', 'text-anchor': 'middle' }, cc);


</script>
</body></html>
